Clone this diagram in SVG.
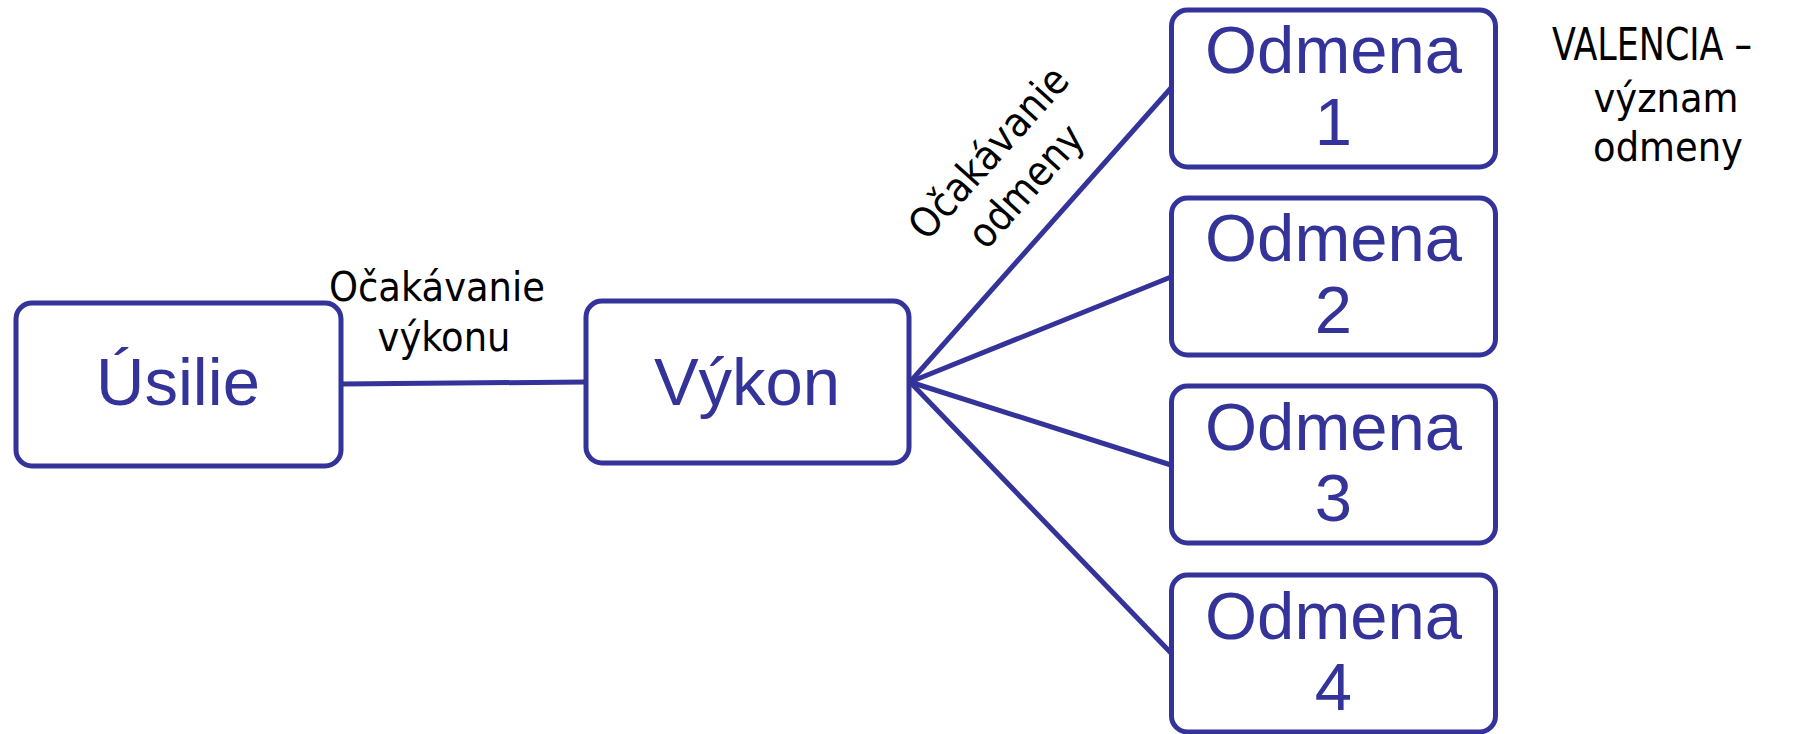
<svg xmlns="http://www.w3.org/2000/svg" width="1793" height="734" viewBox="0 0 1793 734">
<style>
.box{fill:#ffffff;stroke:#333399;stroke-width:5}
.conn{stroke:#333399;stroke-width:5;fill:none}
.big{font-family:"Liberation Sans",Arial,sans-serif;font-size:67px;fill:#333399;text-anchor:middle}
.lbl{font-family:"DejaVu Sans Condensed","DejaVu Sans",sans-serif;font-size:41px;fill:#000000;text-anchor:middle}
</style>
<rect width="1793" height="734" fill="#ffffff"/>
<g id="connectors">
<line class="conn" x1="341" y1="384" x2="586" y2="382"/>
<line class="conn" x1="910" y1="382" x2="1171" y2="88"/>
<line class="conn" x1="910" y1="382" x2="1171" y2="277"/>
<line class="conn" x1="910" y1="382" x2="1171" y2="465"/>
<line class="conn" x1="910" y1="382" x2="1171" y2="653"/>
</g>
<g id="node-usilie">
<rect class="box" x="16" y="303" width="325" height="163" rx="16"/>
<text class="big" x="178" y="405">Úsilie</text>
</g>
<g id="node-vykon">
<rect class="box" x="586" y="301" width="323" height="162" rx="16"/>
<text class="big" x="747" y="405">Výkon</text>
</g>
<g id="node-odmena1">
<rect class="box" x="1171.5" y="10" width="324" height="157" rx="16"/>
<text class="big" x="1333.5" y="73">Odmena</text>
<text class="big" x="1333.5" y="145">1</text>
</g>
<g id="node-odmena2">
<rect class="box" x="1171.5" y="198" width="324" height="157" rx="16"/>
<text class="big" x="1333.5" y="261">Odmena</text>
<text class="big" x="1333.5" y="333">2</text>
</g>
<g id="node-odmena3">
<rect class="box" x="1171.5" y="386" width="324" height="157" rx="16"/>
<text class="big" x="1333.5" y="450">Odmena</text>
<text class="big" x="1333.5" y="521">3</text>
</g>
<g id="node-odmena4">
<rect class="box" x="1171.5" y="575" width="324" height="157" rx="16"/>
<text class="big" x="1333.5" y="639">Odmena</text>
<text class="big" x="1333.5" y="710">4</text>
</g>
<g id="label-vykonu">
<text class="lbl" x="437" y="301">Očakávanie</text>
<text class="lbl" x="444" y="351">výkonu</text>
</g>
<g id="label-odmeny" transform="translate(999,162) rotate(-48)">
<text class="lbl" x="0" y="0">Očakávanie</text>
<text class="lbl" x="0" y="50">odmeny</text>
</g>
<g id="label-valencia">
<text class="lbl" x="1652" y="60" style="font-size:44px" textLength="200" lengthAdjust="spacingAndGlyphs">VALENCIA –</text>
<text class="lbl" x="1666" y="112">význam</text>
<text class="lbl" x="1668" y="161">odmeny</text>
</g>
</svg>
